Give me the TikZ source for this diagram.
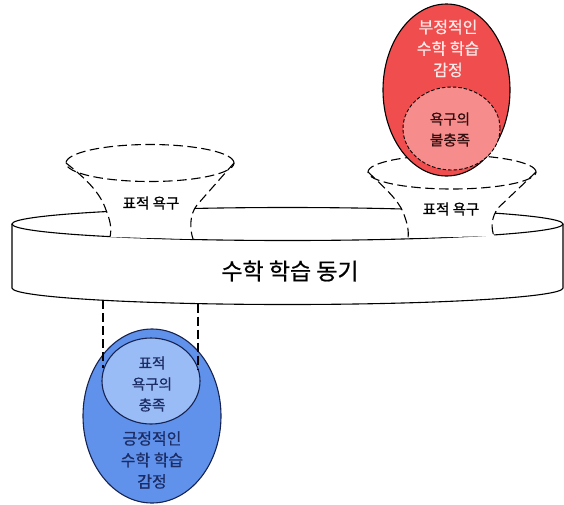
\documentclass[tikz,border=0pt]{standalone}
\usepackage{fontspec}
\newfontfamily\kr[FakeBold=0.8]{Noto Sans CJK KR}
\definecolor{redout}{RGB}{240,78,78}
\definecolor{redin}{RGB}{246,140,140}
\definecolor{blueout}{RGB}{96,146,236}
\definecolor{bluein}{RGB}{154,188,246}
\definecolor{navy}{RGB}{28,44,100}
\definecolor{redtxt}{RGB}{255,232,232}
\definecolor{darkred}{RGB}{50,15,15}
\tikzset{
  solidline/.style={line width=1.1pt, draw=black},
  dashline/.style={line width=1.1pt, draw=black, dash pattern=on 9.5pt off 4.5pt},
  finedash/.style={line width=0.9pt, draw=black, dash pattern=on 3.5pt off 2pt},
  lbl/.style={font=\kr\fontsize{14.5}{21}\selectfont, align=center, inner sep=0pt},
  biglbl/.style={font=\kr\fontsize{16}{21.5}\selectfont, align=center, inner sep=0pt},
}
\begin{document}
\begin{tikzpicture}[x=1pt,y=1pt]
\useasboundingbox (0,0) rectangle (564,-504);
% ---- disk (cylinder ring)
\fill[white] (12,-224) -- (12,-288) arc[start angle=180,end angle=360,x radius=275.5,y radius=16.5]
  -- (563,-224) arc[start angle=0,end angle=180,x radius=275.5,y radius=16.5] -- cycle;
\draw[solidline] (287.5,-224) ellipse[x radius=275.5,y radius=16.5];
\draw[solidline] (12,-224) -- (12,-288) arc[start angle=180,end angle=360,x radius=275.5,y radius=16.5] -- (563,-224);
\node[font=\kr\fontsize{23}{28}\selectfont, inner sep=0pt] (motive) at (290,-271) {수학 학습 동기};
% ---- left funnel
\coordinate (lfL) at (66,-163);
\coordinate (lfR) at (234,-163);
\fill[white] (lfL) .. controls (85,-178) and (100,-192) .. (106,-210) .. controls (110,-220) and (112,-228) .. (110,-237)
  -- (193,-239) .. controls (190,-230) and (189,-215) .. (197,-205) -- (lfR)
  arc[start angle=0,end angle=180,x radius=84,y radius=18.5] -- cycle;
\draw[dashline] (150,-163) ellipse[x radius=84,y radius=18.5];
\draw[dashline] (lfL) .. controls (85,-178) and (100,-192) .. (106,-210) .. controls (110,-220) and (112,-228) .. (110,-237);
\draw[dashline] (lfR) -- (197,-205) .. controls (189,-215) and (190,-230) .. (193,-239);
\node[lbl] (lneed) at (151,-203) {표적 욕구};
% ---- right funnel
\coordinate (rfL) at (368,-172);
\coordinate (rfR) at (536,-172);
\fill[white] (rfL) .. controls (385,-188) and (398,-200) .. (403,-212) .. controls (407,-222) and (409,-230) .. (408,-238)
  -- (494,-236) .. controls (491,-228) and (491,-218) .. (498,-208) -- (rfR)
  arc[start angle=0,end angle=180,x radius=84,y radius=17] -- cycle;
\draw[dashline] (452,-172) ellipse[x radius=84,y radius=17];
\draw[dashline] (rfL) .. controls (385,-188) and (398,-200) .. (403,-212) .. controls (407,-222) and (409,-230) .. (408,-238);
\draw[dashline] (rfR) -- (498,-208) .. controls (491,-218) and (491,-228) .. (494,-236);
\node[lbl] (rneed) at (451,-209) {표적 욕구};
% ---- red (negative) ellipse
\draw[solidline, fill=redout] (446.5,-90) ellipse[x radius=63.5,y radius=86];
\draw[finedash, fill=redin] (451.5,-128.5) ellipse[x radius=48.5,y radius=41.5];
\node[biglbl, text=redtxt] (neg) at (448,-48.5) {부정적인\\수학 학습\\감정};
\node[lbl, text=darkred] (unmet) at (450,-129.5) {욕구의\\불충족};
% ---- blue (positive) ellipse
\draw[line width=1.1pt, draw=navy!80!black, fill=blueout] (152,-416) ellipse[x radius=69,y radius=87];
\draw[line width=1.1pt, draw=navy!80!black, fill=bluein] (151,-381) ellipse[x radius=49,y radius=43];
\coordinate (vl1) at (103,-300.2);
\coordinate (vl2) at (198,-303.6);
\coordinate (vl1e) at (103,-368);
\coordinate (vl2e) at (198,-370);
\draw[dashline, dash pattern=on 9pt off 4pt] (vl1) -- (vl1e);
\draw[dashline, dash pattern=on 9pt off 4pt] (vl2) -- (vl2e);
\node[lbl, text=navy] (met) at (152,-384) {표적\\욕구의\\충족};
\node[biglbl, text=navy] (pos) at (152,-460) {긍정적인\\수학 학습\\감정};
\end{tikzpicture}
\end{document}
